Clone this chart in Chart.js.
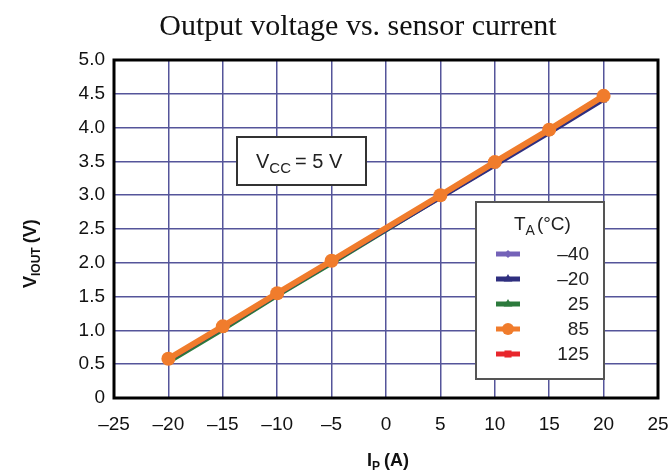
<!DOCTYPE html>
<html lang="en">
<head>
<meta charset="UTF-8">
<title>Output voltage vs. sensor current</title>
<script src="https://cdn.jsdelivr.net/npm/chart.js"></script>
<style>
  html, body { margin: 0; padding: 0; background: #fff; }
  #wrap { position: relative; width: 668px; height: 472px; }
</style>
</head>
<body>
<div id="wrap"><canvas id="myChart" width="668" height="472"></canvas></div>
<script>
// sensor current (A)
const currents = [-20, -15, -10, -5, 5, 10, 15, 20];
// output voltage (V) per ambient temperature
const vMinus40 = [0.56, 1.04, 1.53, 2.01, 2.97, 3.46, 3.95, 4.44];
const vMinus20 = [0.55, 1.03, 1.52, 2.00, 2.95, 3.43, 3.91, 4.40];
const v25 = [0.52, 1.00, 1.50, 1.98, 2.96, 3.44, 3.93, 4.42];
const v85 = [0.58, 1.06, 1.55, 2.03, 3.00, 3.49, 3.97, 4.47];
const v125 = [0.57, 1.05, 1.54, 2.02, 2.99, 3.48, 3.96, 4.46];
const tempLabels = ['\u201340', '\u201320', '25', '85', '125'];
const xTicks = [-25, -20, -15, -10, -5, 0, 5, 10, 15, 20, 25];
const yTicks = [0, 0.5, 1, 1.5, 2, 2.5, 3, 3.5, 4, 4.5, 5];

const sans = '"Liberation Sans", Arial, sans-serif';

function pts(ys) {
    return currents.map((x, i) => ({ x: x, y: ys[i] }));
}

// same order as tempLabels
const series = [
    { data: vMinus40, color: '#7462b8', style: 'rectRot', r: 3, w: 3, order: 3 },
    { data: vMinus20, color: '#2f2f7f', style: 'triangle', r: 4, w: 3, order: 2 },
    { data: v25, color: '#2c7a3c', style: 'triangle', r: 4, w: 3, order: 4 },
    { data: v85, color: '#f07c2c', style: 'circle', r: 7, w: 6, order: 0 },
    { data: v125, color: '#e8262c', style: 'rect', r: 4, w: 4, order: 1 }
];

const datasets = series.map((s, i) => ({
    label: tempLabels[i],
    data: pts(s.data),
    borderColor: s.color,
    backgroundColor: s.color,
    borderWidth: s.w,
    pointStyle: s.style,
    pointRadius: s.r,
    pointBorderWidth: 0,
    showLine: true,
    order: s.order
}));

// title, axis titles with subscripts, boxes and frame
const decor = {
    id: 'decor',
    afterDraw(chart) {
        const ctx = chart.ctx;
        const a = chart.chartArea;
        ctx.save();

        ctx.fillStyle = '#111';
        ctx.textBaseline = 'alphabetic';
        ctx.font = '30px "Liberation Serif", "Times New Roman", serif';
        ctx.textAlign = 'center';
        ctx.fillText('Output voltage vs. sensor current', 358, 35);

        // frame
        ctx.strokeStyle = '#000';
        ctx.lineWidth = 3;
        ctx.strokeRect(a.left, a.top, a.right - a.left, a.bottom - a.top);

        // x title: I_P (A)
        ctx.textAlign = 'left';
        let x = 367, y = 466;
        ctx.font = 'bold 18px ' + sans;
        ctx.fillText('I', x, y);
        x += ctx.measureText('I').width;
        ctx.font = 'bold 12px ' + sans;
        ctx.fillText('P', x, y + 4);
        x += ctx.measureText('P').width + 4;
        ctx.font = 'bold 18px ' + sans;
        ctx.fillText('(A)', x, y);

        // y title: V_IOUT (V)
        ctx.save();
        ctx.translate(36, 0);
        ctx.rotate(-Math.PI / 2);
        x = -288; y = 0;
        ctx.font = 'bold 18px ' + sans;
        ctx.fillText('V', x, y);
        x += ctx.measureText('V').width;
        ctx.font = 'bold 12px ' + sans;
        ctx.fillText('IOUT', x, y + 4);
        x += ctx.measureText('IOUT').width + 4;
        ctx.font = 'bold 18px ' + sans;
        ctx.fillText('(V)', x, y);
        ctx.restore();

        // Vcc box
        ctx.fillStyle = '#fff';
        ctx.fillRect(237, 137, 129, 48);
        ctx.strokeStyle = '#333';
        ctx.lineWidth = 2;
        ctx.strokeRect(237, 137, 129, 48);
        ctx.fillStyle = '#222';
        x = 256; y = 168;
        ctx.font = '20px ' + sans;
        ctx.fillText('V', x, y);
        x += ctx.measureText('V').width;
        ctx.font = '15px ' + sans;
        ctx.fillText('CC', x, y + 5);
        x += ctx.measureText('CC').width + 4;
        ctx.font = '20px ' + sans;
        ctx.fillText('= 5 V', x, y);

        // legend box
        ctx.fillStyle = '#fff';
        ctx.fillRect(476, 202, 128, 177);
        ctx.strokeStyle = '#555';
        ctx.lineWidth = 2;
        ctx.strokeRect(476, 202, 128, 177);
        ctx.fillStyle = '#222';
        x = 514; y = 230;
        ctx.font = '19px ' + sans;
        ctx.fillText('T', x, y);
        x += ctx.measureText('T').width;
        ctx.font = '14px ' + sans;
        ctx.fillText('A', x, y + 5);
        x += ctx.measureText('A').width + 2;
        ctx.font = '19px ' + sans;
        ctx.fillText('(\u00b0C)', x, y);

        series.forEach((s, i) => {
            const ly = 254 + i * 25;
            ctx.strokeStyle = s.color;
            ctx.lineWidth = 5;
            ctx.beginPath();
            ctx.moveTo(496, ly);
            ctx.lineTo(520, ly);
            ctx.stroke();
            ctx.fillStyle = s.color;
            Chart.helpers.drawPoint(ctx, { pointStyle: s.style, radius: Math.min(s.r, 5) + 1, rotation: 0, borderWidth: 0 }, 508, ly);
            ctx.fillStyle = '#222';
            ctx.textAlign = 'right';
            ctx.textBaseline = 'middle';
            ctx.font = '19px ' + sans;
            ctx.fillText(tempLabels[i], 589, ly + 1);
            ctx.textAlign = 'left';
            ctx.textBaseline = 'alphabetic';
        });

        ctx.restore();
    }
};

const ctx = document.getElementById('myChart').getContext('2d');
new Chart(ctx, {
    type: 'scatter',
    data: { datasets: datasets },
    options: {
        responsive: false,
        animation: false,
        layout: { padding: { top: 60, right: 10, left: 0, bottom: 0 } },
        plugins: {
            legend: { display: false },
            tooltip: { enabled: false }
        },
        scales: {
            x: {
                type: 'linear',
                min: -25,
                max: 25,
                afterBuildTicks: scale => { scale.ticks = xTicks.map(v => ({ value: v })); },
                afterFit: scale => {
                    scale.height = 74;
                    scale.paddingLeft = 0;
                    scale.paddingRight = 0;
                },
                grid: { color: '#55559a', lineWidth: 1.5, drawTicks: false },
                border: { display: false },
                ticks: {
                    padding: 15,
                    color: '#111',
                    font: { family: sans, size: 19 },
                    callback: v => String(v).replace('-', '\u2013')
                }
            },
            y: {
                type: 'linear',
                min: 0,
                max: 5,
                afterBuildTicks: scale => { scale.ticks = yTicks.map(v => ({ value: v })); },
                afterFit: scale => {
                    scale.width = 114;
                    scale.paddingTop = 0;
                    scale.paddingBottom = 0;
                },
                grid: { color: '#55559a', lineWidth: 1.5, drawTicks: false },
                border: { display: false },
                ticks: {
                    padding: 9,
                    color: '#111',
                    font: { family: sans, size: 19 },
                    callback: v => (v === 0 ? '0' : v.toFixed(1))
                }
            }
        }
    },
    plugins: [decor]
});
</script>
</body>
</html>
